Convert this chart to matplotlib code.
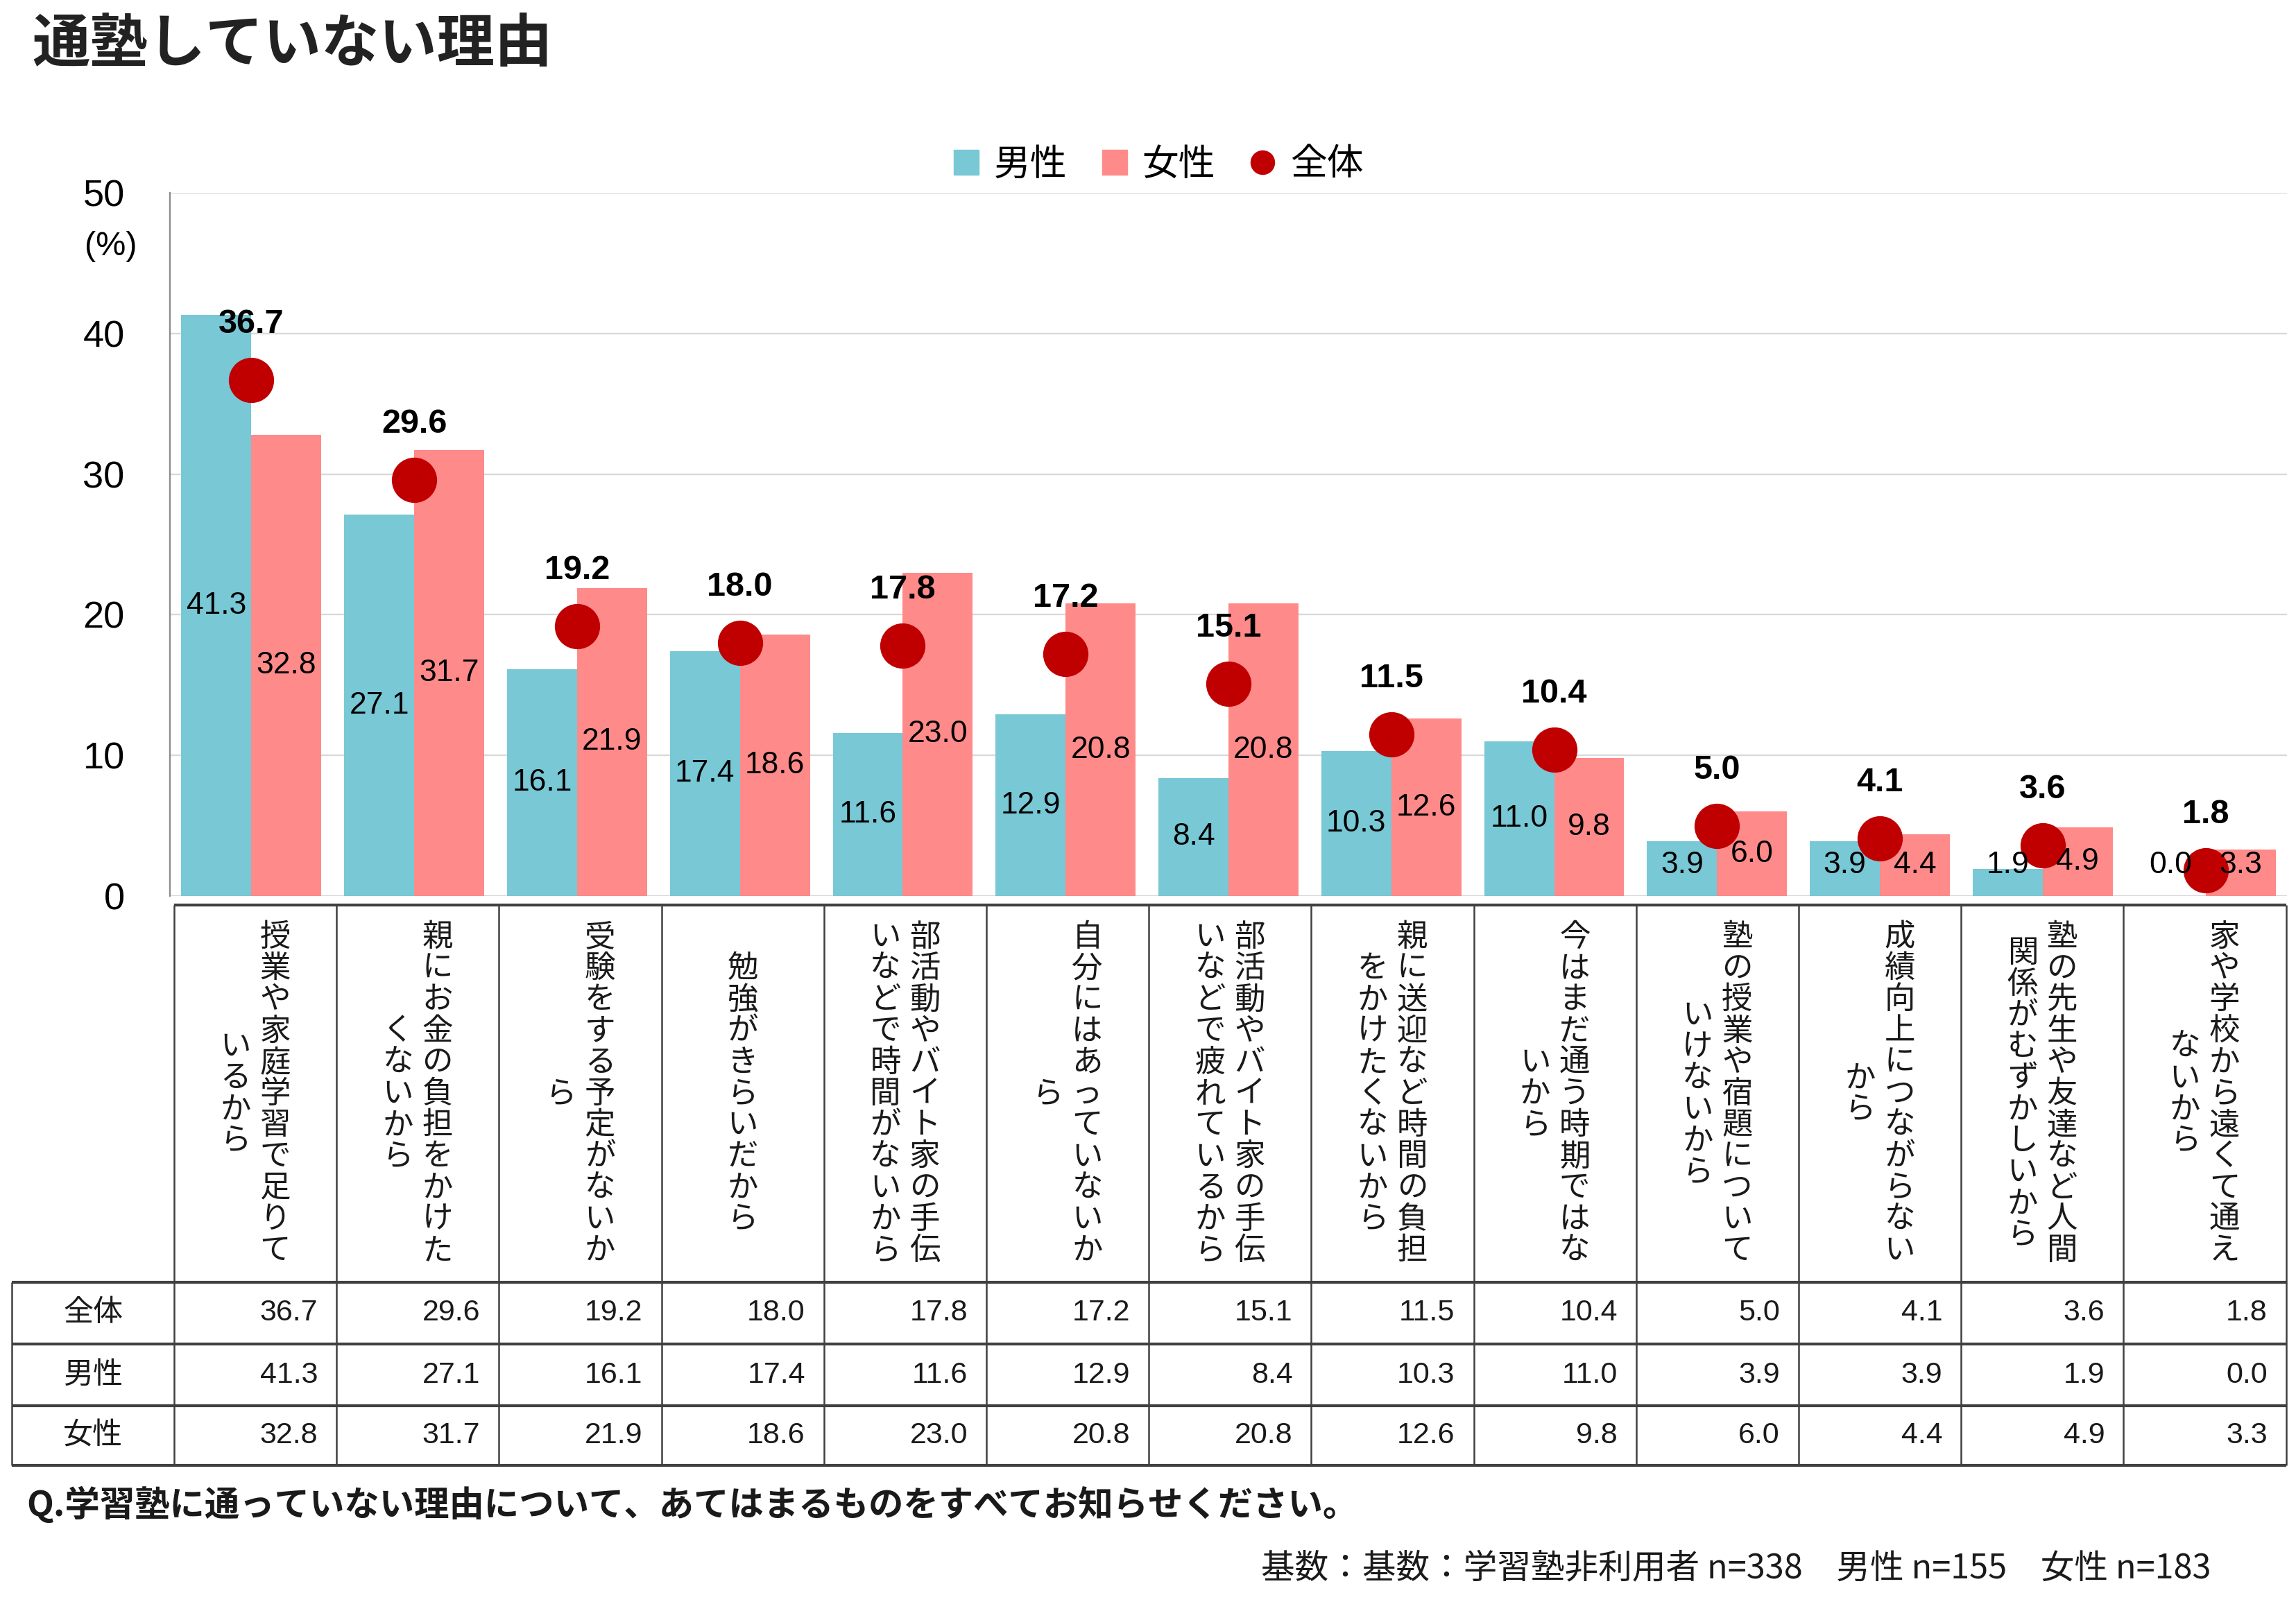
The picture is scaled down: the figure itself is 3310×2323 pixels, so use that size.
import numpy as np
import matplotlib
matplotlib.use('Agg')
import matplotlib.pyplot as plt
from matplotlib.lines import Line2D

plt.rcParams['font.family'] = ['Liberation Sans', 'Noto Sans CJK JP']
JP = ['Noto Sans CJK JP', 'DejaVu Sans']

# data
label_cols = [
    ['授業や家庭学習で足りて', 'いるから'],
    ['親にお金の負担をかけた', 'くないから'],
    ['受験をする予定がないか', 'ら'],
    ['勉強がきらいだから'],
    ['部活動やバイト家の手伝', 'いなどで時間がないから'],
    ['自分にはあっていないか', 'ら'],
    ['部活動やバイト家の手伝', 'いなどで疲れているから'],
    ['親に送迎など時間の負担', 'をかけたくないから'],
    ['今はまだ通う時期ではな', 'いから'],
    ['塾の授業や宿題について', 'いけないから'],
    ['成績向上につながらない', 'から'],
    ['塾の先生や友達など人間', '関係がむずかしいから'],
    ['家や学校から遠くて通え', 'ないから'],
]
overall = [36.7, 29.6, 19.2, 18.0, 17.8, 17.2, 15.1, 11.5, 10.4, 5.0, 4.1, 3.6, 1.8]
male = [41.3, 27.1, 16.1, 17.4, 11.6, 12.9, 8.4, 10.3, 11.0, 3.9, 3.9, 1.9, 0.0]
female = [32.8, 31.7, 21.9, 18.6, 23.0, 20.8, 20.8, 12.6, 9.8, 6.0, 4.4, 4.9, 3.3]
row_names = ['全体', '男性', '女性']
series_names = ['男性', '女性', '全体']

BLUE = '#78C8D6'
PINK = '#FF8A8A'
RED = '#C00000'
LINE = '#404040'

W, H = 3310, 2323
fig = plt.figure(figsize=(W / 100, H / 100), dpi=100)


def fx(p):
    return p / W


def fy(p):
    return 1 - p / H


ax = fig.add_axes([fx(245), fy(1292), fx(3297) - fx(245), fy(278) - fy(1292)])
x = np.arange(len(overall))
w = 0.43
ax.bar(x - w / 2, male, w, color=BLUE, zorder=2, label=series_names[0])
ax.bar(x + w / 2, female, w, color=PINK, zorder=2, label=series_names[1])
ax.scatter(x, overall, s=47 ** 2, color=RED, zorder=4, linewidths=0)

for i in range(len(x)):
    ax.text(x[i] - w / 2, max(male[i] / 2, 2.2), f'{male[i]:.1f}', ha='center', va='center',
            fontsize=32, color='black', zorder=5)
    ax.text(x[i] + w / 2, max(female[i] / 2, 2.2), f'{female[i]:.1f}', ha='center', va='center',
            fontsize=32, color='black', zorder=5)
    ax.annotate(f'{overall[i]:.1f}', (x[i], overall[i]), xytext=(0, 58), textcoords='offset points',
                ha='center', va='center', fontsize=35, fontweight='bold', color='black', zorder=6)

ax.set_xlim(-0.5, len(x) - 0.5)
ax.set_ylim(0, 50)
ax.set_yticks(range(0, 51, 10))
ax.set_xticks([])
ax.tick_params(axis='y', length=0, pad=47, labelsize=39)
ax.yaxis.grid(True, color='#D9D9D9', lw=1.7, zorder=0)
ax.set_axisbelow(True)
ax.axhline(0, color='#D9D9D9', lw=2.2, zorder=1)
for s in ['top', 'right', 'bottom']:
    ax.spines[s].set_visible(False)
ax.spines['left'].set_color('#8C8C8C')
ax.spines['left'].set_linewidth(1.7)
ax.patch.set_alpha(0)

fig.text(fx(160), fy(355), '(%)', ha='center', va='center', fontsize=35)

# legend
handles = [
    Line2D([], [], marker='s', ls='none', color=BLUE, markersize=26.5),
    Line2D([], [], marker='s', ls='none', color=PINK, markersize=26.5),
    Line2D([], [], marker='o', ls='none', color=RED, markersize=24.5),
]
fig.legend(handles, series_names, loc='center', bbox_to_anchor=(fx(1666), fy(237)), ncol=3,
           frameon=False, handlelength=1.0, handletextpad=0.25, columnspacing=0.8,
           prop={'family': JP, 'size': 38})

# title
fig.text(fx(46), fy(64), '通塾していない理由', fontsize=60, fontweight='bold', family=JP,
         ha='left', va='center', color='#222222')

# table geometry
col0 = 251
cw = 234.2
ncat = len(overall)
right = col0 + cw * ncat
top = 1305
rows_y = [1849, 1938, 2027, 2113]


def hline(y, x0, x1, lw=3.0):
    fig.add_artist(Line2D([fx(x0), fx(x1)], [fy(y), fy(y)], transform=fig.transFigure,
                          color=LINE, lw=lw, solid_capstyle='butt'))


def vline(xp, y0, y1, lw=1.8):
    fig.add_artist(Line2D([fx(xp), fx(xp)], [fy(y0), fy(y1)], transform=fig.transFigure,
                          color=LINE, lw=lw, solid_capstyle='butt'))


hline(top, col0, right)
for yy in rows_y:
    hline(yy, 17, right)
for k in range(ncat + 1):
    vline(col0 + cw * k, top, rows_y[-1])
vline(17, rows_y[0], rows_y[-1])

# vertical category labels
pitch = 45.2
colgap = 57
cy0 = (top + rows_y[0]) / 2
for i, cols in enumerate(label_cols):
    cx = col0 + cw * (i + 0.5)
    n = len(cols)
    for j, col in enumerate(cols):
        colx = cx + ((n - 1) / 2 - j) * colgap
        for k, ch in enumerate(col):
            cy = cy0 + (k - (len(col) - 1) / 2) * pitch
            fig.text(fx(colx), fy(cy), ch, ha='center', va='center', fontsize=32,
                     family=JP, color='#1a1a1a')

# table values
table = [overall, male, female]
for r, vals in enumerate(table):
    yc = (rows_y[r] + rows_y[r + 1]) / 2
    fig.text(fx((17 + col0) / 2), fy(yc), row_names[r], ha='center', va='center',
             fontsize=31, family=JP, color='#1a1a1a')
    for i, v in enumerate(vals):
        fig.text(fx(col0 + cw * (i + 1) - 27), fy(yc), f'{v:.1f}', ha='right', va='center',
                 fontsize=31, color='#1a1a1a')

fig.text(fx(38), fy(2170), 'Q.学習塾に通っていない理由について、あてはまるものをすべてお知らせください。',
         fontsize=36.3, fontweight='bold', family=JP, ha='left', va='center', color='#1a1a1a')
fig.text(fx(3188), fy(2262), '基数：基数：学習塾非利用者 n=338　男性 n=155　女性 n=183',
         fontsize=35, family=JP, ha='right', va='center', color='#1a1a1a')

fig.savefig('out.png', dpi=100)
